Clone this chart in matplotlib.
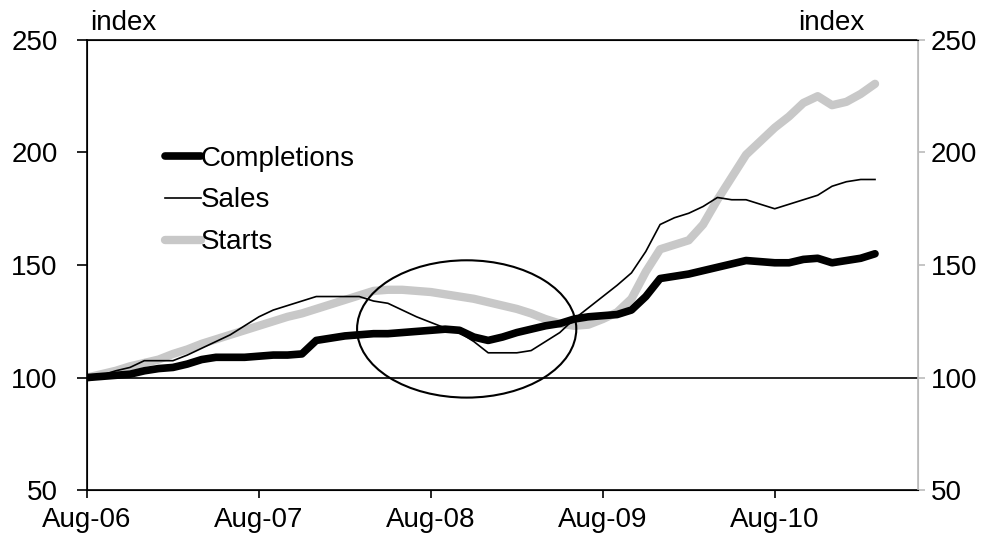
import matplotlib
matplotlib.use("Agg")
import matplotlib.pyplot as plt
from matplotlib.patches import Ellipse

plt.rcParams['font.family'] = ['Liberation Sans', 'DejaVu Sans']

# monthly index, Aug-06 = 0 ... Mar-11 = 55
months = list(range(56))
tick_pos = [0, 12, 24, 36, 48]
tick_labels = ['Aug-06', 'Aug-07', 'Aug-08', 'Aug-09', 'Aug-10']

completions = [100, 100.5, 101, 101.5, 103, 104, 104.5, 106, 108, 109,
               109, 109, 109.5, 110, 110, 110.5, 116.5, 117.5, 118.5, 119,
               119.5, 119.5, 120, 120.5, 121, 121.5, 121, 118, 116.5, 118,
               120, 121.5, 123, 124, 126, 127, 127.5, 128, 130, 136,
               144, 145, 146, 147.5, 149, 150.5, 152, 151.5, 151, 151,
               152.5, 153, 151, 152, 153, 155]
sales = [100, 101, 103, 104.5, 107.5, 107.5, 107.5, 110, 113, 116,
         119, 123, 127, 130, 132, 134, 136, 136, 136, 136,
         134, 133, 130, 127, 124.5, 122, 120, 116, 111, 111,
         111, 112, 116, 120, 126, 131, 136, 141, 146.5, 156,
         168, 171, 173, 176, 180, 179, 179, 177, 175, 177,
         179, 181, 185, 187, 188, 188]
starts = [100, 101.5, 103, 105, 106.5, 108, 110.5, 112.5, 115, 117,
          119, 121, 123, 125, 127, 128.5, 130.5, 132.5, 134.5, 136.5,
          138.5, 139, 139, 138.5, 138, 137, 136, 135, 133.5, 132,
          130.5, 128.5, 126, 124, 123, 123.5, 126, 129, 135, 147,
          157, 159, 161, 168, 179, 189, 199, 205, 211, 216,
          222, 225, 221, 222.5, 226, 230.5]

fig = plt.figure(figsize=(10, 5.47), dpi=100)
ax = fig.add_axes([0.087, 0.104, 0.831, 0.823])

ax.plot(months, starts, color='#c8c8c8', lw=6, solid_capstyle='round', label='Starts', zorder=3)
ax.plot(months, sales, color='black', lw=1.2, label='Sales', zorder=4)
ax.plot(months, completions, color='black', lw=5.5, solid_capstyle='round', label='Completions', zorder=5)
ax.axhline(100, color='black', lw=1.2, zorder=2)

ax.add_patch(Ellipse((26.5, 121.6), 15.3, 61, fill=False, ec='black', lw=1.5, zorder=6))

ax.set_xlim(0, 58)
ax.set_ylim(50, 250)
ax.set_xticks(tick_pos)
ax.set_xticklabels(tick_labels)
ax.set_yticks([50, 100, 150, 200, 250])
ax.tick_params(labelsize=20, width=1.2, direction='out')
ax.tick_params(axis='y', length=7, pad=14)
ax.tick_params(axis='x', length=6, pad=6)
for s in ['left', 'top', 'bottom']:
    ax.spines[s].set_linewidth(1.2)
ax.spines['right'].set_color('#bbbbbb')

ax2 = ax.twinx()
ax2.set_ylim(50, 250)
ax2.set_yticks([50, 100, 150, 200, 250])
ax2.tick_params(labelsize=20, length=5, width=1.2, pad=4, color='#bbbbbb')
ax2.spines['right'].set_color('#bbbbbb')
ax2.spines['right'].set_linewidth(1.2)

ax.text(0.004, 1.022, 'index', transform=ax.transAxes, fontsize=20, ha='left', va='baseline')
ax.text(0.936, 1.022, 'index', transform=ax.transAxes, fontsize=20, ha='right', va='baseline')

h, l = ax.get_legend_handles_labels()
order = [2, 1, 0]
ax.legend([h[i] for i in order], [l[i] for i in order], loc='upper left',
          bbox_to_anchor=(0.08, 0.79), frameon=False, fontsize=20,
          handlelength=1.3, handletextpad=0.0, labelspacing=0.57, borderaxespad=0)

fig.savefig('out.png', dpi=100)
